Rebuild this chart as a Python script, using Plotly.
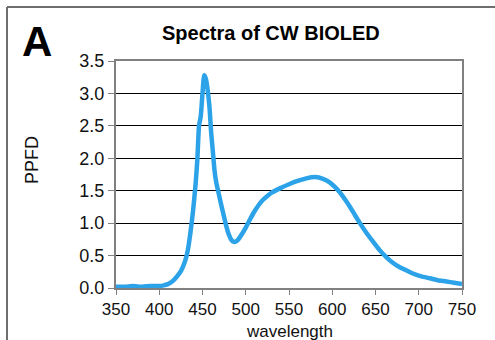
import plotly.graph_objects as go

wavelength = [350, 360, 370, 380, 390, 400, 405, 410, 415, 420, 425, 430, 433, 436, 439,
              442, 444, 446, 448, 450, 452, 454, 456, 458, 460, 462, 464, 466, 468, 471,
              474, 477, 480, 483, 486, 489, 492, 496, 500, 505, 510, 515, 520, 525, 530,
              540, 550, 560, 570, 580, 590, 597, 603, 609, 615, 620, 626, 632, 640, 648,
              655, 663, 670, 678, 686, 694, 703, 713, 722, 732, 741, 750]
ppfd = [0.02, 0.02, 0.03, 0.02, 0.03, 0.03, 0.04, 0.06, 0.10, 0.17, 0.26, 0.42, 0.58, 0.85, 1.18,
        1.60, 1.97, 2.50, 2.65, 3.00, 3.28, 3.22, 3.05, 2.80, 2.40, 2.10, 1.80, 1.62, 1.50, 1.32,
        1.15, 0.98, 0.84, 0.75, 0.71, 0.72, 0.76, 0.84, 0.93, 1.06, 1.18, 1.28, 1.36, 1.42, 1.47,
        1.54, 1.60, 1.65, 1.69, 1.71, 1.68, 1.63, 1.56, 1.47, 1.36, 1.26, 1.13, 1.00, 0.84, 0.70,
        0.58, 0.47, 0.39, 0.32, 0.27, 0.22, 0.18, 0.15, 0.12, 0.10, 0.08, 0.06]

x_ticks = [350, 400, 450, 500, 550, 600, 650, 700, 750]
y_ticks = [0.0, 0.5, 1.0, 1.5, 2.0, 2.5, 3.0, 3.5]

FONT = "Liberation Sans, Arial, sans-serif"

fig = go.Figure()
fig.add_trace(go.Scatter(
    x=wavelength, y=ppfd, mode="lines",
    line=dict(color="#2ca3e8", width=4.5, shape="spline", smoothing=0.6),
    hoverinfo="skip", showlegend=False,
))

fig.update_layout(
    width=495, height=340,
    margin=dict(l=116, r=33, t=61, b=52),
    paper_bgcolor="white", plot_bgcolor="white",
    font=dict(family=FONT, size=18, color="#111111"),
    xaxis=dict(
        range=[350, 750], tickvals=x_ticks, ticktext=[str(v) for v in x_ticks],
        showgrid=False, zeroline=False,
        showline=True, linecolor="#808080", linewidth=2, mirror=True,
        ticks="outside", ticklen=5, tickcolor="#808080", tickwidth=1,
        tickfont=dict(size=17),
    ),
    yaxis=dict(
        range=[0, 3.5], tickvals=y_ticks, ticktext=[f"{v:.1f}" for v in y_ticks],
        showgrid=True, gridcolor="#000000", gridwidth=1, zeroline=False,
        showline=True, linecolor="#808080", linewidth=2, mirror=True,
        ticks="outside", ticklen=6, tickcolor="#808080", tickwidth=1,
        tickfont=dict(size=18),
    ),
    annotations=[
        dict(text="<b>Spectra of CW BIOLED</b>", xref="paper", yref="paper",
             x=(271 - 116) / 346, y=(288 - 33) / 227, xanchor="center", yanchor="middle",
             showarrow=False, font=dict(size=20, color="#000000")),
        dict(text="<b>A</b>", xref="paper", yref="paper",
             x=(20 - 116) / 346, y=(288 - 41) / 227, xanchor="left", yanchor="middle",
             showarrow=False, font=dict(size=42, color="#000000")),
        dict(text="PPFD", xref="paper", yref="paper",
             x=(32 - 116) / 346, y=(288 - 160) / 227, xanchor="center", yanchor="middle",
             textangle=-90, showarrow=False, font=dict(size=18, color="#111111")),
        dict(text="wavelength", xref="paper", yref="paper",
             x=0.5, y=(288 - 331) / 227, xanchor="center", yanchor="middle",
             showarrow=False, font=dict(size=17, color="#111111")),
    ],
    shapes=[
        dict(type="line", xref="paper", yref="paper",
             x0=(7 - 116) / 346, x1=(500 - 116) / 346,
             y0=(288 - 7) / 227, y1=(288 - 7) / 227,
             line=dict(color="#6e6e6e", width=2)),
        dict(type="line", xref="paper", yref="paper",
             x0=(7 - 116) / 346, x1=(7 - 116) / 346,
             y0=(288 - 7) / 227, y1=(288 - 345) / 227,
             line=dict(color="#6e6e6e", width=2)),
    ],
)

fig.write_html("out.html")
